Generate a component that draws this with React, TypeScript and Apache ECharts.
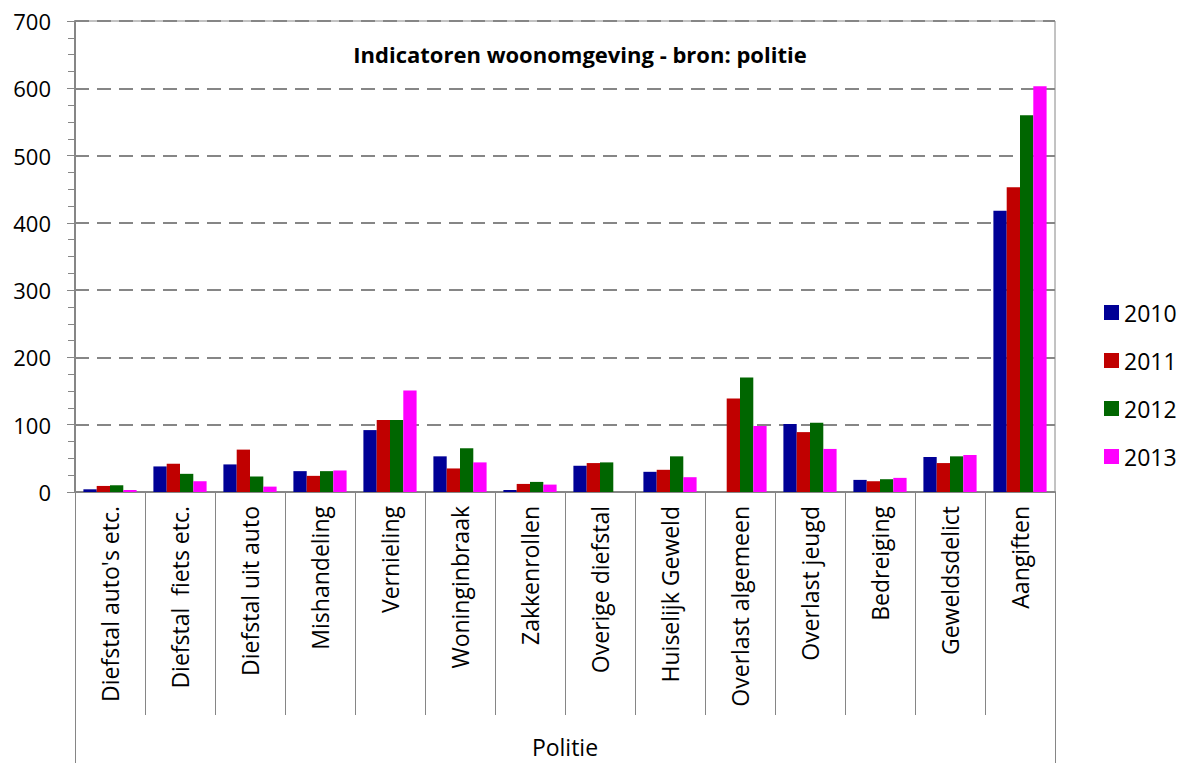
import React, { useEffect, useRef } from "react";
import * as echarts from "echarts";

const categories = [
  "Diefstal auto's etc.",
  "Diefstal  fiets etc.",
  "Diefstal uit auto",
  "Mishandeling",
  "Vernieling",
  "Woninginbraak",
  "Zakkenrollen",
  "Overige diefstal",
  "Huiselijk Geweld",
  "Overlast algemeen",
  "Overlast jeugd",
  "Bedreiging",
  "Geweldsdelict",
  "Aangiften",
];
const years = ["2010", "2011", "2012", "2013"];
const values2010 = [4, 38, 41, 31, 92, 53, 3, 39, 30, 0, 101, 18, 52, 418];
const values2011 = [9, 42, 63, 24, 107, 35, 12, 43, 33, 139, 89, 16, 43, 453];
const values2012 = [10, 27, 23, 31, 107, 65, 15, 44, 53, 170, 103, 19, 53, 560];
const values2013 = [3, 16, 8, 32, 151, 44, 11, 0, 22, 98, 64, 21, 55, 603];
const groupLabel = ["Politie"];
const colors = ["#000096", "#C00000", "#006600", "#FF00FF"];
const titleText = "Indicatoren woonomgeving - bron: politie";

const FONT = "'Open Sans', sans-serif";
const GRAY = "#868686";

export default function App() {
  const ref = useRef<HTMLDivElement>(null);
  useEffect(() => {
    if (!ref.current) return;
    const chart = echarts.init(ref.current, null, { renderer: "svg" });
    const seriesData = [values2010, values2011, values2012, values2013];
    chart.setOption({
      animation: false,
      backgroundColor: "#ffffff",
      textStyle: { fontFamily: FONT },
      title: {
        text: titleText,
        left: 575,
        top: 38,
        textAlign: "center",
        textStyle: { fontFamily: FONT, fontSize: 22, fontWeight: "bold", color: "#000" },
      },
      legend: {
        orient: "vertical",
        left: 1099,
        top: 296,
        itemWidth: 15,
        itemHeight: 15,
        itemGap: 25,
        icon: "rect",
        data: years,
        textStyle: { fontFamily: FONT, fontSize: 23, color: "#000" },
      },
      grid: {
        left: 75,
        top: 21,
        width: 980,
        height: 471,
        show: true,
        borderColor: GRAY,
        borderWidth: 1,
        backgroundColor: "transparent",
      },
      xAxis: [
        {
          type: "category",
          data: categories,
          position: "bottom",
          axisLine: { show: true, lineStyle: { color: GRAY, width: 2 } },
          axisTick: { show: true, interval: 0, length: 223, lineStyle: { color: GRAY, width: 1 } },
          axisLabel: {
            interval: 0,
            rotate: 90,
            margin: 14,
            fontFamily: FONT,
            fontSize: 23,
            color: "#000",
          },
        },
        {
          type: "category",
          data: groupLabel,
          position: "bottom",
          offset: 223,
          axisLine: { show: false },
          axisTick: { show: true, interval: 0, length: 48, lineStyle: { color: GRAY, width: 1 } },
          axisLabel: { margin: 20, fontFamily: FONT, fontSize: 23, color: "#000" },
        },
      ],
      yAxis: {
        type: "value",
        min: 0,
        max: 700,
        interval: 100,
        axisLine: { show: true, lineStyle: { color: GRAY, width: 2 } },
        axisTick: { show: true, length: 8, lineStyle: { color: GRAY } },
        minorTick: { show: true, splitNumber: 4, length: 7, lineStyle: { color: GRAY } },
        splitLine: { show: true, lineStyle: { color: GRAY, type: [14, 8], width: 2 } },
        axisLabel: { margin: 24, fontFamily: FONT, fontSize: 22, color: "#000" },
      },
      series: years.map((y, i) => ({
        name: y,
        type: "bar",
        xAxisIndex: 0,
        data: seriesData[i],
        barGap: "0%",
        barCategoryGap: "24%",
        itemStyle: { color: colors[i] },
      })),
    });
    return () => chart.dispose();
  }, []);
  return (
    <div
      ref={ref}
      style={{ position: "fixed", left: 0, top: 0, width: 1183, height: 763 }}
    />
  );
}
